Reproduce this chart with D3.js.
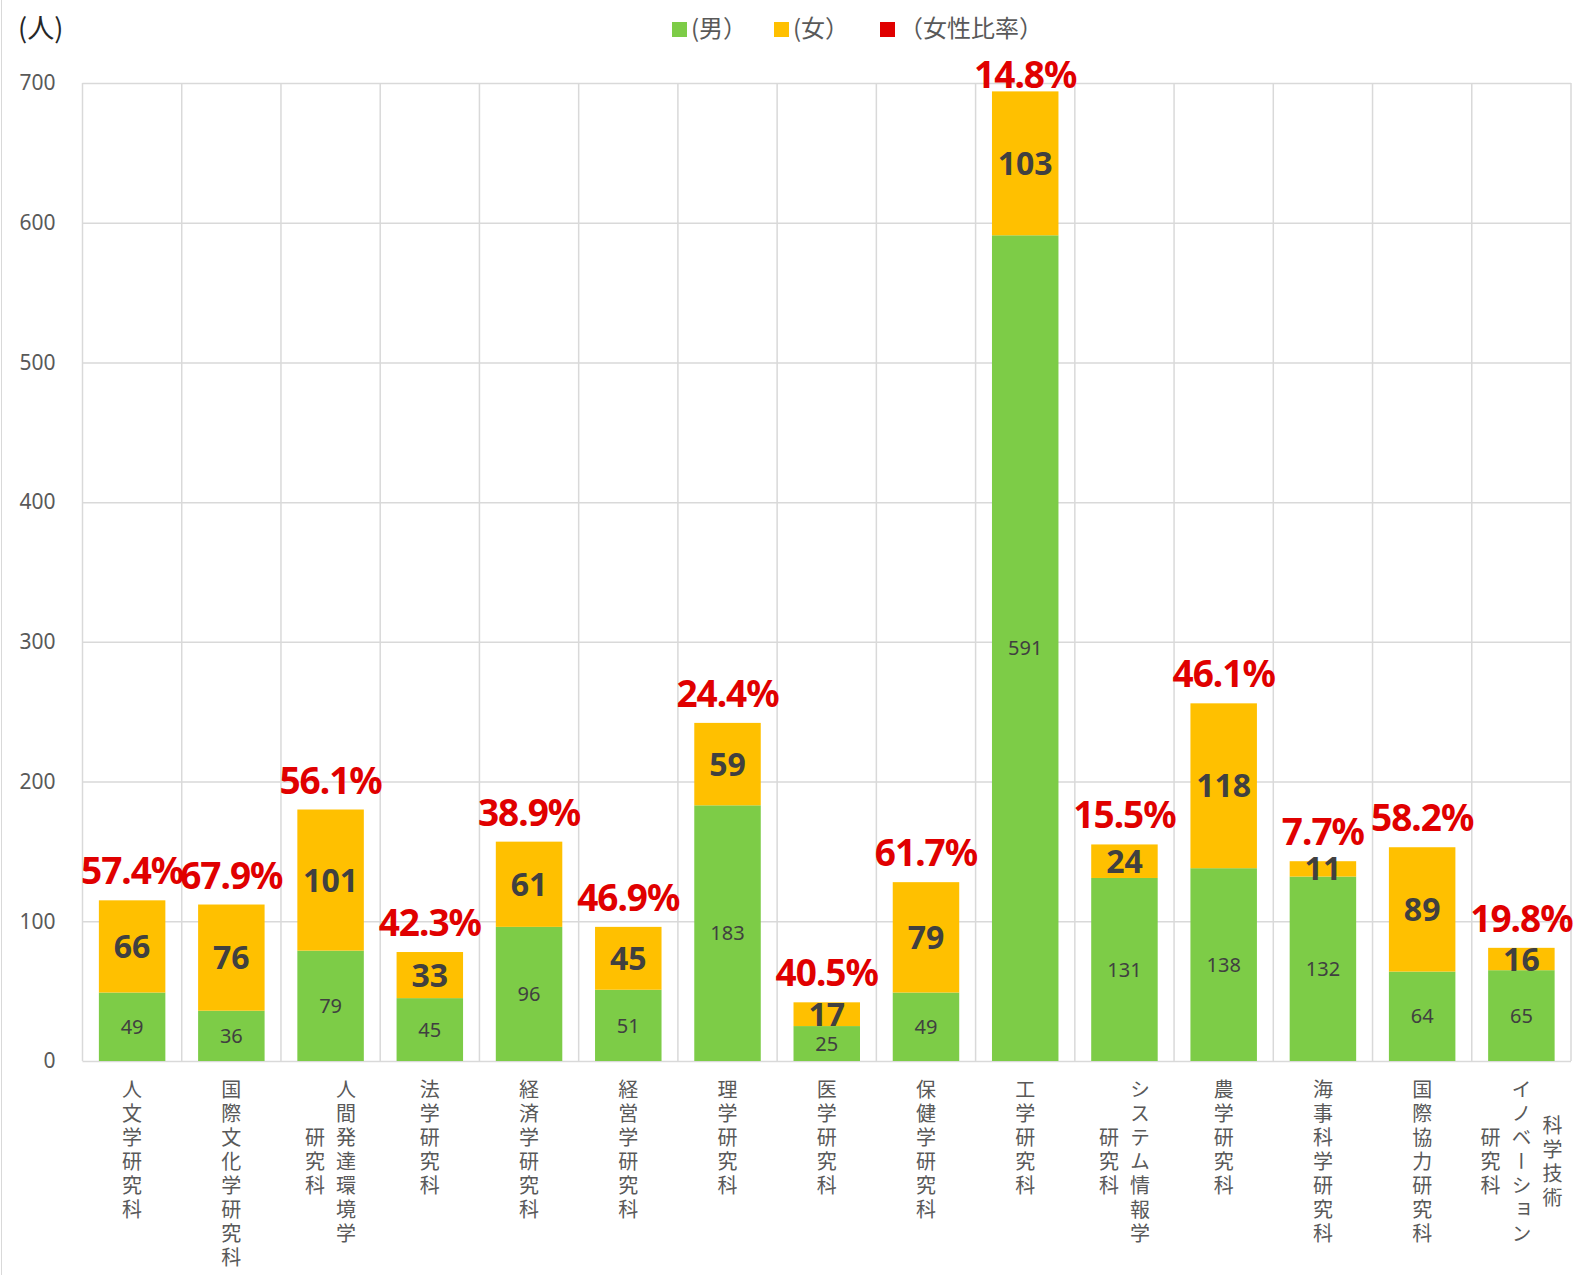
<!DOCTYPE html>
<html>
<head>
<meta charset="utf-8">
<script src="https://cdn.jsdelivr.net/npm/d3@7"></script>
<style>
  body { margin: 0; background: #fff; }
  text { font-family: "Noto Sans CJK JP", "Noto Sans", sans-serif; }
  .num { font-family: "Noto Sans", sans-serif; }
</style>
</head>
<body>
<div id="chart"></div>
<script>
// Chart data
var categories = [
  ["人文学研究科"],
  ["国際文化学研究科"],
  ["人間発達環境学", "研究科"],
  ["法学研究科"],
  ["経済学研究科"],
  ["経営学研究科"],
  ["理学研究科"],
  ["医学研究科"],
  ["保健学研究科"],
  ["工学研究科"],
  ["システム情報学", "研究科"],
  ["農学研究科"],
  ["海事科学研究科"],
  ["国際協力研究科"],
  ["科学技術", "イノベーション", "研究科"]
];
var male = [49, 36, 79, 45, 96, 51, 183, 25, 49, 591, 131, 138, 132, 64, 65];
var female = [66, 76, 101, 33, 61, 45, 59, 17, 79, 103, 24, 118, 11, 89, 16];
var femaleRatio = [57.4, 67.9, 56.1, 42.3, 38.9, 46.9, 24.4, 40.5, 61.7, 14.8, 15.5, 46.1, 7.7, 58.2, 19.8];
var yTicks = [0, 100, 200, 300, 400, 500, 600, 700];
var legendItems = ["(男）", "(女）", "（女性比率）"];
var unitLabel = "(人)";

var colors = { male: "#7dcc47", female: "#ffc000", ratio: "#e00000" };

// SVG area and plot box
var svgWidth = 1580;
var svgHeight = 1275;
var margin = { top: 83, right: 9, bottom: 214, left: 82.5 };
var chartWidth = svgWidth - margin.left - margin.right;
var chartHeight = svgHeight - margin.top - margin.bottom;

var svg = d3.select("#chart")
  .append("svg")
  .attr("width", svgWidth)
  .attr("height", svgHeight);

// light frame line on the left edge
svg.append("line")
  .attr("x1", 1.5).attr("x2", 1.5)
  .attr("y1", 0).attr("y2", svgHeight)
  .attr("stroke", "#d9d9d9");

var chartGroup = svg.append("g")
  .attr("transform", `translate(${margin.left}, ${margin.top})`);

var idx = d3.range(categories.length);

var xBandScale = d3.scaleBand()
  .domain(idx)
  .range([0, chartWidth])
  .paddingInner(0.33)
  .paddingOuter(0.165);

var yLinearScale = d3.scaleLinear()
  .domain([0, 700])
  .range([chartHeight, 0]);

// horizontal grid
var yGrid = d3.axisLeft(yLinearScale).tickValues(yTicks).tickSize(-chartWidth).tickFormat('');
chartGroup.append("g")
  .attr("class", "y axis-grid")
  .call(yGrid)
  .call(g => g.select(".domain").remove())
  .call(g => g.selectAll("line").attr("stroke", "#d9d9d9").attr("stroke-width", 1.5));

// vertical grid at the category boundaries
var gap = (xBandScale.step() - xBandScale.bandwidth()) / 2;
var bounds = idx.map(i => xBandScale(i) - gap).concat([chartWidth]);
chartGroup.append("g")
  .selectAll("line")
  .data(bounds)
  .enter()
  .append("line")
  .attr("x1", d => d).attr("x2", d => d)
  .attr("y1", 0).attr("y2", chartHeight)
  .attr("stroke", "#d9d9d9")
  .attr("stroke-width", 1.5);

// y axis labels
var yAxis = d3.axisLeft(yLinearScale).tickValues(yTicks).tickSize(0).tickPadding(27);
chartGroup.append("g")
  .call(yAxis)
  .call(g => g.select(".domain").remove())
  .call(g => g.selectAll("text")
    .attr("class", "num")
    .attr("font-size", "21px")
    .attr("fill", "#595959"));

// stacked bars
var barsMale = chartGroup.append("g").selectAll("rect")
  .data(idx)
  .enter()
  .append("rect")
  .attr("x", i => xBandScale(i))
  .attr("width", xBandScale.bandwidth())
  .attr("y", i => yLinearScale(male[i]))
  .attr("height", i => chartHeight - yLinearScale(male[i]))
  .attr("fill", colors.male);

var barsFemale = chartGroup.append("g").selectAll("rect")
  .data(idx)
  .enter()
  .append("rect")
  .attr("x", i => xBandScale(i))
  .attr("width", xBandScale.bandwidth())
  .attr("y", i => yLinearScale(male[i] + female[i]))
  .attr("height", i => yLinearScale(male[i]) - yLinearScale(male[i] + female[i]))
  .attr("fill", colors.female);

var cx = i => xBandScale(i) + xBandScale.bandwidth() / 2;

// male value labels
chartGroup.append("g").selectAll("text")
  .data(idx)
  .enter()
  .append("text")
  .attr("class", "num")
  .attr("x", cx)
  .attr("y", i => (yLinearScale(0) + yLinearScale(male[i])) / 2)
  .attr("dy", "0.36em")
  .attr("text-anchor", "middle")
  .attr("font-size", "20px")
  .attr("fill", "#404040")
  .text(i => male[i]);

// female value labels
chartGroup.append("g").selectAll("text")
  .data(idx)
  .enter()
  .append("text")
  .attr("class", "num")
  .attr("x", cx)
  .attr("y", i => (yLinearScale(male[i]) + yLinearScale(male[i] + female[i])) / 2)
  .attr("dy", "0.36em")
  .attr("text-anchor", "middle")
  .attr("font-size", "32px")
  .attr("font-weight", "bold")
  .attr("fill", "#404040")
  .text(i => female[i]);

// female ratio labels above bars
chartGroup.append("g").selectAll("text")
  .data(idx)
  .enter()
  .append("text")
  .attr("class", "num")
  .attr("x", cx)
  .attr("y", i => Math.max(yLinearScale(male[i] + female[i]) - 16, 5))
  .attr("text-anchor", "middle")
  .attr("font-size", "37px")
  .attr("font-weight", "bold")
  .attr("letter-spacing", "-1px")
  .attr("fill", colors.ratio)
  .text(i => femaleRatio[i].toFixed(1) + "%");

// vertical category labels (columns run right to left)
var pitch = 24;
var colGap = 31;
var labelTop = chartHeight + 18;
var labelsGroup = chartGroup.append("g");
idx.forEach(function(i) {
  var cols = categories[i];
  var maxLen = d3.max(cols, c => c.length);
  cols.forEach(function(col, j) {
    labelsGroup.append("text")
      .attr("x", cx(i) + ((cols.length - 1) / 2 - j) * colGap)
      .attr("y", labelTop + (maxLen - col.length) * pitch / 2)
      .attr("style", "writing-mode: vertical-rl;")
      .attr("letter-spacing", "4px")
      .attr("font-size", "20px")
      .attr("fill", "#595959")
      .text(col);
  });
});

// unit label
svg.append("text")
  .attr("x", 18)
  .attr("y", 29)
  .attr("dy", "0.35em")
  .attr("font-size", "27px")
  .attr("fill", "#262626")
  .text(unitLabel);

// legend
var legendX = [672, 774, 880];
var legendColors = [colors.male, colors.female, colors.ratio];
var legend = svg.append("g");
legendItems.forEach(function(name, k) {
  legend.append("rect")
    .attr("x", legendX[k])
    .attr("y", 22)
    .attr("width", 15)
    .attr("height", 15)
    .attr("fill", legendColors[k]);
  legend.append("text")
    .attr("x", legendX[k] + 19)
    .attr("y", 29)
    .attr("dy", "0.35em")
    .attr("font-size", "24px")
    .attr("fill", "#595959")
    .text(name);
});
</script>
</body>
</html>
